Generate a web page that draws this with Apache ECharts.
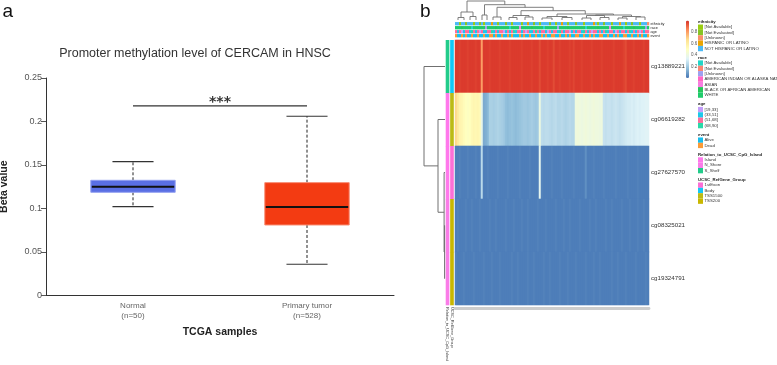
<!DOCTYPE html>
<html>
<head>
<meta charset="utf-8">
<title>CERCAM methylation in HNSC</title>
<script src="https://cdn.jsdelivr.net/npm/echarts@6/dist/echarts.min.js"></script>
<style>
  html, body { margin: 0; padding: 0; background: #fff; }
  #chart { width: 777px; height: 365px; }
</style>
</head>
<body>
<div id="chart"></div>
<script>
// ---- panel a : boxplot ----
const groups = ["Normal\n(n=50)", "Primary tumor\n(n=528)"];
// [min, Q1, median, Q3, max]
const boxStats = [
  [0.102, 0.1185, 0.125, 0.1323, 0.1537],
  [0.0357, 0.0809, 0.1016, 0.1296, 0.206],
];
const betaTicks = { min: 0, max: 0.25, step: 0.05 };
const sigLevel = 0.218;
const sigText = "***";

// ---- panel b : heatmap ----
const probes = ["cg13889221", "cg06619282", "cg27627570", "cg08325021", "cg19324791"];
const cg13889221 = [
  0.98,0.98,0.97,0.98,0.98,0.98,0.97,0.98,0.98,0.98,
  0.97,0.98,0.98,0.80,0.98,0.98,0.98,0.97,0.98,0.98,
  0.98,0.98,0.97,0.98,0.98,0.98,0.98,0.97,0.98,0.98,
  0.98,0.98,0.98,0.97,0.98,0.98,0.98,0.98,0.97,0.98,
  0.98,0.98,0.95,0.98,0.98,0.98,0.97,0.98,0.98,0.95,
  0.98,0.98,0.97,0.98,0.98,0.98,0.98,0.97,0.98,0.96,
  0.98,0.98,0.98,0.97,0.98,0.98,0.98,0.98,0.97,0.98,
  0.98,0.98,0.98,0.97,0.98,0.98,0.98,0.98,0.98,0.97,
  0.98,0.98,0.98,0.98,0.97,0.95,0.98,0.98,0.98,0.97,
  0.98,0.98,0.98,0.98,0.97,0.98,0.98];
const cg06619282 = [
  0.68,0.62,0.56,0.55,0.52,0.50,0.49,0.50,0.53,0.55,
  0.54,0.55,0.53,0.38,0.12,0.13,0.15,0.22,0.22,0.21,
  0.22,0.23,0.22,0.21,0.20,0.17,0.16,0.17,0.18,0.17,
  0.16,0.17,0.18,0.19,0.20,0.20,0.19,0.20,0.21,0.20,
  0.19,0.20,0.40,0.26,0.25,0.26,0.26,0.25,0.24,0.25,
  0.26,0.24,0.24,0.25,0.24,0.23,0.24,0.25,0.24,0.24,
  0.41,0.42,0.41,0.40,0.41,0.42,0.41,0.40,0.41,0.42,
  0.41,0.41,0.40,0.41,0.28,0.27,0.28,0.28,0.27,0.28,
  0.29,0.28,0.27,0.28,0.29,0.30,0.31,0.31,0.32,0.31,
  0.32,0.33,0.32,0.33,0.33,0.34,0.34];
const cg27627570 = [
  0.02,0.02,0.03,0.02,0.02,0.02,0.03,0.02,0.02,0.02,
  0.03,0.02,0.02,0.25,0.02,0.02,0.03,0.02,0.02,0.02,
  0.02,0.03,0.02,0.02,0.02,0.02,0.03,0.02,0.02,0.02,
  0.02,0.02,0.03,0.02,0.02,0.02,0.02,0.03,0.02,0.02,
  0.02,0.02,0.36,0.03,0.02,0.02,0.02,0.02,0.03,0.02,
  0.02,0.02,0.02,0.03,0.02,0.02,0.02,0.02,0.02,0.03,
  0.02,0.02,0.02,0.02,0.02,0.06,0.02,0.02,0.02,0.03,
  0.02,0.02,0.02,0.02,0.03,0.02,0.02,0.02,0.02,0.02,
  0.03,0.02,0.02,0.02,0.02,0.02,0.03,0.02,0.02,0.02,
  0.02,0.03,0.02,0.02,0.02,0.02,0.02];
const cg08325021 = [
  0.02,0.03,0.02,0.02,0.02,0.03,0.02,0.02,0.03,0.02,
  0.02,0.02,0.03,0.02,0.02,0.02,0.02,0.03,0.02,0.02,
  0.03,0.02,0.02,0.02,0.02,0.03,0.02,0.02,0.02,0.03,
  0.02,0.02,0.02,0.03,0.02,0.02,0.03,0.02,0.02,0.02,
  0.02,0.03,0.02,0.02,0.02,0.03,0.02,0.02,0.02,0.02,
  0.03,0.02,0.02,0.02,0.03,0.02,0.02,0.03,0.02,0.02,
  0.02,0.02,0.03,0.02,0.02,0.02,0.02,0.03,0.02,0.02,
  0.03,0.02,0.02,0.02,0.02,0.03,0.02,0.02,0.03,0.02,
  0.02,0.02,0.02,0.03,0.02,0.02,0.02,0.03,0.02,0.02,
  0.02,0.03,0.02,0.02,0.03,0.02,0.02];
const cg19324791 = [
  0.03,0.02,0.02,0.02,0.03,0.02,0.02,0.02,0.02,0.03,
  0.02,0.02,0.02,0.02,0.03,0.02,0.02,0.02,0.03,0.02,
  0.02,0.02,0.03,0.02,0.02,0.02,0.02,0.02,0.03,0.02,
  0.02,0.03,0.02,0.02,0.02,0.02,0.03,0.02,0.02,0.03,
  0.02,0.02,0.02,0.02,0.03,0.02,0.02,0.03,0.02,0.02,
  0.02,0.02,0.03,0.02,0.02,0.02,0.03,0.02,0.02,0.02,
  0.03,0.02,0.02,0.02,0.02,0.03,0.02,0.02,0.02,0.03,
  0.02,0.02,0.03,0.02,0.02,0.02,0.02,0.02,0.03,0.02,
  0.02,0.03,0.02,0.02,0.02,0.03,0.02,0.02,0.02,0.02,
  0.03,0.02,0.02,0.02,0.02,0.03,0.02];
const colorTicks = { min: 0, max: 1, step: 0.2 };

// column annotations (category index per sample column)
const trackNames = ["ethnicity", "race", "age", "event"];
const ethnicity = [
  4,4,0,4,4,1,4,4,4,0, 4,4,1,4,0,4,4,4,3,4, 4,0,4,4,4,1,4,4,0,4,
  4,4,4,0,4,4,3,4,4,1, 4,4,0,4,4,4,4,1,4,4, 0,4,4,3,4,4,0,4,4,4,
  1,4,4,4,0,4,4,4,4,3, 4,0,4,4,1,4,4,4,0,4, 4,4,3,4,4,0,4,4,1,4,
  4,4,0,4,4,4,2];
const race = [
  6,6,6,5,6,6,6,6,0,6, 6,6,6,6,6,2,6,6,6,6, 5,6,6,6,6,6,6,0,6,6,
  6,6,4,6,6,6,6,6,5,6, 6,6,6,6,0,6,6,6,6,6, 6,2,6,6,6,6,5,6,6,6,
  6,6,6,6,6,0,6,6,6,6, 6,5,6,6,6,6,6,4,6,6, 6,6,6,6,0,6,6,6,6,5,
  6,6,6,6,6,2,6];
const age = [
  2,1,2,0,1,2,2,1,3,2, 1,2,0,2,1,1,2,2,3,1, 2,1,2,2,0,1,2,1,2,3,
  1,2,2,1,2,0,2,1,1,2, 3,2,1,2,2,1,0,2,1,2, 2,1,3,2,1,2,2,0,1,2,
  1,2,2,1,3,2,1,2,0,2, 2,1,2,1,2,3,1,2,2,1, 0,2,1,2,2,1,2,3,1,2,
  1,2,0,2,1,2,2];
const event = [
  1,0,0,1,0,1,0,0,1,0, 0,1,0,0,1,0,0,1,1,0, 1,0,0,1,0,0,1,0,1,0,
  0,0,1,0,1,0,0,1,0,0, 1,0,0,1,0,1,0,0,1,1, 0,0,1,0,0,1,0,1,0,0,
  1,1,0,0,1,0,0,1,0,1, 0,0,1,1,0,0,1,0,0,1, 0,1,0,0,1,1,0,0,1,0,
  0,1,0,1,0,0,1];

// row annotations
const rowAnnNames = ["Relation_to_UCSC_CpG_Island", "UCSC_RefGene_Group"];
const relation = [2, 0, 0, 1, 1];
const refGene = [1, 2, 0, 3, 3];

// legend levels
const ethnicityLevels = ["[Not Available]", "[Not Evaluated]", "[Unknown]", "HISPANIC OR LATINO", "NOT HISPANIC OR LATINO"];
const raceLevels = ["[Not Available]", "[Not Evaluated]", "[Unknown]", "AMERICAN INDIAN OR ALASKA NATIVE", "ASIAN", "BLACK OR AFRICAN AMERICAN", "WHITE"];
const ageLevels = ["[19,33]", "(33,51]", "(51,68]", "(68,90]"];
const eventLevels = ["Alive", "Dead"];
const relationLevels = ["Island", "N_Shore", "S_Shelf"];
const refGeneLevels = ["1stExon", "Body", "TSS1500", "TSS200"];

// dendrograms: leaves then merges [childA, childB, height]
const rowMerges = [[3, 4, 0.4], [2, 5, 0.9], [1, 6, 7], [0, 7, 21]];
const colLeaves = [
  [0,2],[3,5],[6,8],[9,11],[12,14],[15,16],[17,20],[21,24],
  [25,28],[29,32],[33,36],[37,40],[41,45],[46,50],[51,55],[56,60],
  [61,65],[66,69],[70,74],[75,78],[79,83],[84,87],[88,92],[93,96]];
const colMerges = [
  [0,1,2.5],[2,3,3.5],[24,25,8],[4,5,5],[6,7,3],[8,9,2.5],[10,11,3],[29,30,4.5],
  [12,13,2],[14,15,2.5],[32,33,3.5],[16,17,2],[18,19,2.5],[35,36,4.5],[20,21,2],
  [22,23,3],[38,39,3.5],[37,40,5],[34,41,6],[31,42,9.3],[28,43,12.7],[27,44,15.3],[26,45,19]];

// ---- styles ----
const FONT = "Liberation Sans, Arial, sans-serif";
const boxFill = ["#5a6fe4", "#f33b12"];
const boxEdge = ["#93a0f0", "#f88a70"];
const heatColors = ["#4575b4", "#91bfdb", "#e0f3f8", "#ffffbf", "#fee090", "#fc8d59", "#d73027"];
const ethnicityColors = ["#99cc11", "#86c424", "#f9906a", "#eba400", "#4cb9f5"];
const raceColors = ["#21d6c8", "#fb8572", "#9ea0f0", "#ff66c4", "#f77de0", "#25c75a", "#1fcb6b"];
const ageColors = ["#c39cfa", "#1cc8ea", "#ff6a9c", "#2bd9a8"];
const eventColors = ["#16bfef", "#fb9b37"];
const relationColors = ["#ff78ec", "#fa7ce8", "#22cc8a"];
const refGeneColors = ["#fc6fd6", "#14c8f5", "#bcbb16", "#c9b700"];
const treeColor = "#707070";

// ---- build data ----
const heatRows = [cg13889221, cg06619282, cg27627570, cg08325021, cg19324791];
const colIds = cg13889221.map((_, i) => "S" + (i + 1));
const heatData = [];
heatRows.forEach((row, r) => row.forEach((v, c) => heatData.push([c, r, v])));

const tracks = [ethnicity, race, age, event];
const trackColors = [ethnicityColors, raceColors, ageColors, eventColors];
const trackData = [];
tracks.forEach((tr, t) => tr.forEach((k, c) => trackData.push([c, t, k])));

const rowAnn = [relation, refGene];
const rowAnnColors = [relationColors, refGeneColors];
const rowAnnData = [];
rowAnn.forEach((ann, a) => ann.forEach((k, r) => rowAnnData.push([a, r, k])));

function treeSegments(leafPos, merges) {
  const pos = leafPos.slice();
  const h = leafPos.map(() => 0);
  const segs = [];
  merges.forEach(([a, b, ht]) => {
    segs.push([pos[a], pos[b], h[a], h[b], ht]);
    pos.push((pos[a] + pos[b]) / 2);
    h.push(ht);
  });
  return segs;
}
const rowTree = treeSegments(probes.map((_, i) => i), rowMerges);
const colTree = treeSegments(colLeaves.map(([s, e]) => (s + e + 1) / 2), colMerges);

// legend groups
const legendGroups = [
  { title: "ethnicity", levels: ethnicityLevels, colors: ethnicityColors },
  { title: "race", levels: raceLevels, colors: raceColors },
  { title: "age", levels: ageLevels, colors: ageColors },
  { title: "event", levels: eventLevels, colors: eventColors },
  { title: "Relation_to_UCSC_CpG_Island", levels: relationLevels, colors: relationColors },
  { title: "UCSC_RefGene_Group", levels: refGeneLevels, colors: refGeneColors },
];
const legendItems = [];
let ly = 21.7;
legendGroups.forEach((g) => {
  legendItems.push({ type: "text", x: 698, y: ly,
    style: { text: g.title, fontSize: 4.3, fontWeight: "bold", fontFamily: FONT, fill: "#222", verticalAlign: "middle" } });
  ly += 5.5;
  g.levels.forEach((lv, i) => {
    legendItems.push({ type: "rect", shape: { x: 698, y: ly - 2.67, width: 5, height: 5.34 }, style: { fill: g.colors[i] } });
    legendItems.push({ type: "text", x: 704.5, y: ly,
      style: { text: lv, fontSize: 4.3, fontFamily: FONT, fill: "#333", verticalAlign: "middle" } });
    ly += 5.34;
  });
  ly += 3.66;
});

const chart = echarts.init(document.getElementById("chart"));

chart.setOption({
  animation: false,
  backgroundColor: "#fff",
  textStyle: { fontFamily: FONT },
  grid: [
    { left: 46, top: 78, width: 348, height: 217.3, outerBoundsMode: "none" },   // boxplot
    { left: 455, top: 40, width: 194, height: 265, outerBoundsMode: "none" },    // heatmap
    { left: 455, top: 21.7, width: 194, height: 16, outerBoundsMode: "none" },   // column annotations
    { left: 445.3, top: 40, width: 8.9, height: 265, outerBoundsMode: "none" },  // row annotations
    { left: 423, top: 40, width: 22, height: 265, outerBoundsMode: "none" },     // row dendrogram
    { left: 455, top: 0, width: 194, height: 20, outerBoundsMode: "none" },      // column dendrogram
    { left: 686, top: 20.5, width: 3, height: 57.5, outerBoundsMode: "none" },   // colour key axis
  ],
  xAxis: [
    { gridIndex: 0, type: "category", data: groups,
      axisLine: { lineStyle: { color: "#333", width: 1 } }, axisTick: { show: false },
      axisLabel: { fontSize: 8, lineHeight: 10, color: "#666", margin: 5 },
      name: "TCGA samples", nameLocation: "middle", nameGap: 31,
      nameTextStyle: { fontSize: 10.5, fontWeight: "bold", color: "#222" } },
    { gridIndex: 1, type: "category", data: colIds,
      axisLine: { show: true, onZero: false, lineStyle: { color: "#cdcdcd", width: 2.8 } },
      offset: 3, axisTick: { show: false }, axisLabel: { show: false } },
    { gridIndex: 2, type: "category", data: colIds, show: false },
    { gridIndex: 3, type: "category", data: rowAnnNames,
      axisLine: { show: false }, axisTick: { show: false },
      axisLabel: { rotate: -90, interval: 0, fontSize: 3.8, color: "#333", margin: 2 } },
    { gridIndex: 4, type: "value", min: 0, max: 22, inverse: true, show: false },
    { gridIndex: 5, type: "value", min: 0, max: colIds.length, show: false },
    { gridIndex: 6, type: "value", min: 0, max: 1, show: false },
  ],
  yAxis: [
    { gridIndex: 0, type: "value", min: betaTicks.min, max: betaTicks.max, interval: betaTicks.step,
      axisLine: { show: true, lineStyle: { color: "#333", width: 1 } },
      axisTick: { show: true, length: 5, lineStyle: { color: "#555" } },
      axisLabel: { fontSize: 9, color: "#555", margin: 4 },
      splitLine: { show: false },
      name: "Beta value", nameLocation: "middle", nameGap: 36.5,
      nameTextStyle: { fontSize: 10.5, fontWeight: "bold", color: "#222" } },
    { gridIndex: 1, type: "category", data: probes, inverse: true, position: "right",
      axisLine: { show: false }, axisTick: { show: false },
      axisLabel: { fontSize: 6.2, color: "#333", margin: 2 } },
    { gridIndex: 2, type: "category", data: trackNames, inverse: true, position: "right",
      axisLine: { show: false }, axisTick: { show: false },
      axisLabel: { fontSize: 3.8, color: "#222", margin: 1.5, interval: 0 } },
    { gridIndex: 3, type: "category", data: probes, inverse: true, show: false },
    { gridIndex: 4, type: "value", min: -0.5, max: probes.length - 0.5, inverse: true, show: false },
    { gridIndex: 5, type: "value", min: 0, max: 20, show: false },
    { gridIndex: 6, type: "value", min: colorTicks.min, max: colorTicks.max, interval: colorTicks.step,
      position: "right", axisLine: { show: false }, axisTick: { show: false }, splitLine: { show: false },
      axisLabel: { fontSize: 4.5, color: "#555", margin: 2, showMinLabel: false, showMaxLabel: false } },
  ],
  visualMap: {
    type: "continuous", seriesIndex: 2, min: colorTicks.min, max: colorTicks.max,
    calculable: false, inRange: { color: heatColors },
    left: 686, top: 20.5, itemWidth: 3, itemHeight: 57.5, padding: 0,
    textStyle: { fontSize: 1, color: "rgba(0,0,0,0)" },
  },
  graphic: [
    { type: "text", x: 2.5, y: 11.3, style: { text: "a", fontSize: 19, fontFamily: FONT, fill: "#111", verticalAlign: "middle" } },
    { type: "text", x: 420, y: 11.3, style: { text: "b", fontSize: 19, fontFamily: FONT, fill: "#111", verticalAlign: "middle" } },
    { type: "text", x: 195, y: 54,
      style: { text: "Promoter methylation level of CERCAM in HNSC", fontSize: 12.5, fontFamily: FONT,
               fill: "#333", align: "center", verticalAlign: "middle" } },
    { type: "group", children: legendItems },
  ],
  series: [
    { type: "custom", xAxisIndex: 0, yAxisIndex: 0, silent: true,
      data: boxStats.map((s, i) => [i].concat(s)),
      renderItem: (params, api) => {
        const i = api.value(0);
        const lo = api.value(1), q1 = api.value(2), med = api.value(3), q3 = api.value(4), hi = api.value(5);
        const band = api.size([1, 0])[0];
        const cx = api.coord([i, med])[0];
        const yOf = (v) => api.coord([i, v])[1];
        const bw = band * 0.485, cw = band * 0.236;
        const dash = { stroke: "#222", lineWidth: 1, lineDash: [3, 2] };
        const cap = { stroke: "#333", lineWidth: 1.2 };
        return { type: "group", children: [
          { type: "line", shape: { x1: cx, y1: yOf(q3), x2: cx, y2: yOf(hi) }, style: dash },
          { type: "line", shape: { x1: cx, y1: yOf(q1), x2: cx, y2: yOf(lo) }, style: dash },
          { type: "line", shape: { x1: cx - cw / 2, y1: yOf(hi), x2: cx + cw / 2, y2: yOf(hi) }, style: cap },
          { type: "line", shape: { x1: cx - cw / 2, y1: yOf(lo), x2: cx + cw / 2, y2: yOf(lo) }, style: cap },
          { type: "rect", shape: { x: cx - bw / 2, y: yOf(q3), width: bw, height: yOf(q1) - yOf(q3) },
            style: { fill: boxFill[i], stroke: boxEdge[i], lineWidth: 1 } },
          { type: "line", shape: { x1: cx - bw / 2 + 1, y1: yOf(med), x2: cx + bw / 2 - 1, y2: yOf(med) },
            style: { stroke: "#111", lineWidth: 2 } },
        ] };
      } },
    { type: "custom", xAxisIndex: 0, yAxisIndex: 0, silent: true,
      data: [[0, 1, sigLevel]],
      renderItem: (params, api) => {
        const p0 = api.coord([api.value(0), api.value(2)]);
        const p1 = api.coord([api.value(1), api.value(2)]);
        return { type: "group", children: [
          { type: "line", shape: { x1: p0[0], y1: p0[1], x2: p1[0], y2: p1[1] }, style: { stroke: "#333", lineWidth: 1.2 } },
          { type: "text", x: (p0[0] + p1[0]) / 2, y: p0[1] - 3.5,
            style: { text: sigText, fontSize: 14, fontFamily: "DejaVu Sans", fontWeight: "bold", fill: "#333",
                     align: "center", verticalAlign: "middle" } },
        ] };
      } },
    { type: "heatmap", xAxisIndex: 1, yAxisIndex: 1, data: heatData, silent: true,
      itemStyle: { borderWidth: 0 }, emphasis: { disabled: true } },
    { type: "custom", xAxisIndex: 2, yAxisIndex: 2, silent: true, data: trackData,
      renderItem: (params, api) => {
        const t = api.value(1);
        const p = api.coord([api.value(0), t]);
        const s = api.size([1, 1]);
        return { type: "rect", shape: { x: p[0] - s[0] / 2, y: p[1] - s[1] / 2 + 0.35, width: s[0] + 0.2, height: s[1] - 0.7 },
                 style: { fill: trackColors[t][api.value(2)] } };
      } },
    { type: "custom", xAxisIndex: 3, yAxisIndex: 3, silent: true, data: rowAnnData,
      renderItem: (params, api) => {
        const a = api.value(0);
        const p = api.coord([a, api.value(1)]);
        const s = api.size([1, 1]);
        return { type: "rect", shape: { x: p[0] - s[0] / 2 + 0.4, y: p[1] - s[1] / 2, width: s[0] - 0.8, height: s[1] + 0.3 },
                 style: { fill: rowAnnColors[a][api.value(2)] } };
      } },
    { type: "custom", xAxisIndex: 4, yAxisIndex: 4, silent: true, data: rowTree,
      renderItem: (params, api) => {
        const pa = api.value(0), pb = api.value(1), ha = api.value(2), hb = api.value(3), h = api.value(4);
        return { type: "polyline",
          shape: { points: [api.coord([ha, pa]), api.coord([h, pa]), api.coord([h, pb]), api.coord([hb, pb])] },
          style: { stroke: treeColor, lineWidth: 1, fill: null } };
      } },
    { type: "custom", xAxisIndex: 5, yAxisIndex: 5, silent: true, data: colTree,
      renderItem: (params, api) => {
        const pa = api.value(0), pb = api.value(1), ha = api.value(2), hb = api.value(3), h = api.value(4);
        return { type: "polyline",
          shape: { points: [api.coord([pa, ha]), api.coord([pa, h]), api.coord([pb, h]), api.coord([pb, hb])] },
          style: { stroke: treeColor, lineWidth: 0.9, fill: null } };
      } },
  ],
});
</script>
</body>
</html>
